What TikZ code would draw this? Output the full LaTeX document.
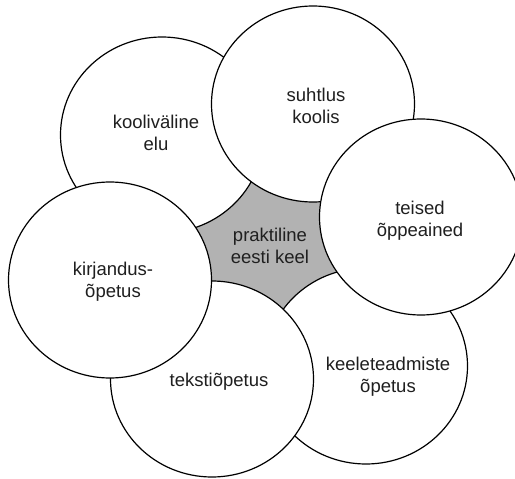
\documentclass[tikz,border=0pt]{standalone}
\usepackage{fontspec}
\setmainfont{Liberation Sans}
\usetikzlibrary{shapes.geometric}
\begin{document}
\begin{tikzpicture}[x=1pt,y=-1pt,
  disc/.style={ellipse,draw=black,fill=white,line width=1.2pt,inner sep=0pt,
    minimum width=203pt,minimum height=196pt},
  lbl/.style={align=center,inner sep=0pt,text=black!88,
    font=\fontsize{18.5}{22}\selectfont}]
\useasboundingbox (0,0) rectangle (515,479);
\coordinate (ckool) at (162,135);
\coordinate (csuht) at (313,104);
\coordinate (cteis) at (421,217);
\coordinate (ckeel) at (366,366);
\coordinate (cteks) at (212,379);
\coordinate (ckirj) at (110,280);
\fill[fill=black!30] (ckool) -- (csuht) -- (cteis) -- (ckeel) -- (cteks) -- (ckirj) -- cycle;
\node[disc] (kool) at (ckool) {};
\node[disc] (suht) at (csuht) {};
\node[disc] (keel) at (ckeel) {};
\node[disc] (teis) at (cteis) {};
\node[disc] (teks) at (cteks) {};
\node[disc] (kirj) at (ckirj) {};
\node[lbl] (tkool) at (156,133) {kooliväline\\elu};
\node[lbl] (tsuht) at (316,106) {suhtlus\\koolis};
\node[lbl] (tteis) at (420,221) {teised\\õppeained};
\node[lbl] (tkeel) at (388,377) {keeleteadmiste\\õpetus};
\node[lbl] (tteks) at (219,382) {tekstiõpetus};
\node[lbl] (tkirj) at (113,282) {kirjandus-\\õpetus};
\node[lbl] (tprak) at (270,246) {praktiline\\eesti keel};
\end{tikzpicture}
\end{document}
